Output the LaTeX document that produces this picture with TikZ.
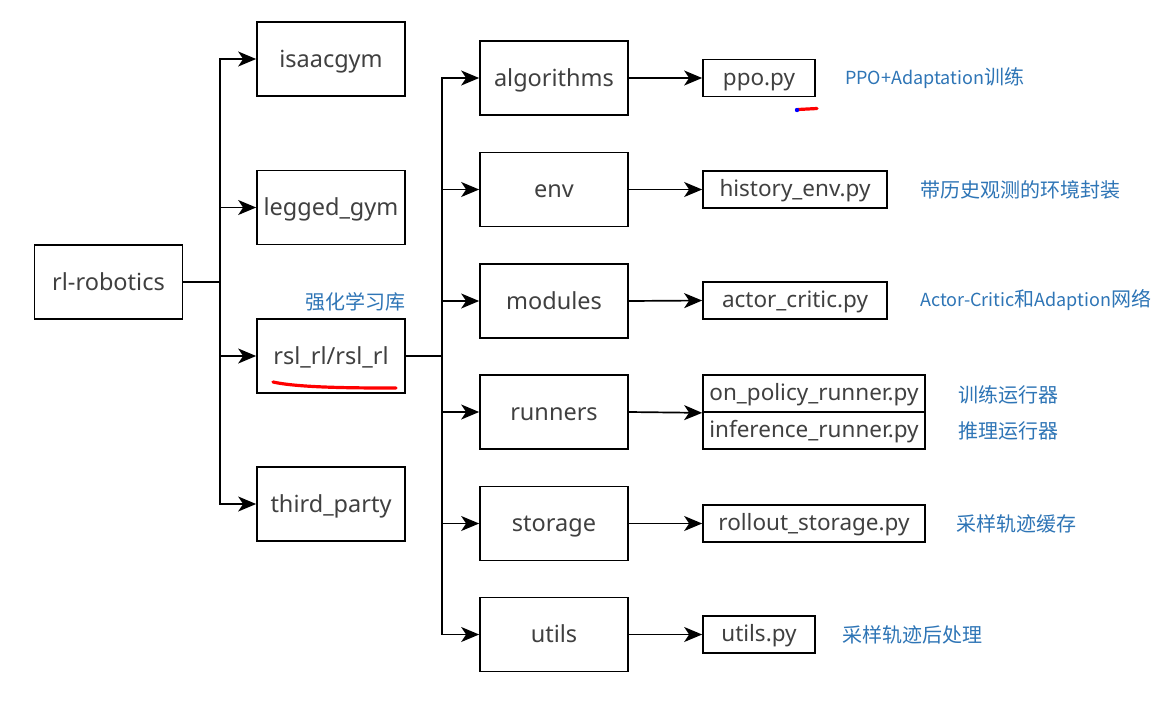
\documentclass[tikz,border=0pt]{standalone}
\usepackage{fontspec}
\setmainfont{Noto Sans}
\newfontfamily\cjk{Noto Sans CJK SC}
\usetikzlibrary{arrows.meta}
\definecolor{txt}{HTML}{404040}
\definecolor{lbl}{HTML}{2E75B6}
\newcommand{\lat}[1]{{\fontsize{18}{20}\selectfont #1}}
\tikzset{
  dirbox/.style={draw=black, line width=1.7pt, minimum width=148pt, minimum height=74pt, inner sep=0pt, text=txt, text height=16pt, text depth=0pt, font=\fontsize{23.5}{26}\selectfont},
  filebox/.style={draw=black, line width=1.7pt, minimum height=37pt, inner sep=0pt, text=txt, text height=14.5pt, text depth=0pt, font=\fontsize{22.5}{25}\selectfont},
  note/.style={text=lbl, font=\cjk\fontsize{20}{22}\selectfont, anchor=west, inner sep=0pt},
  conn/.style={line width=1.7pt, draw=black},
  arr/.style={conn, -{Stealth[length=18pt,width=15pt,inset=5pt]}},
  redmark/.style={draw=red, line width=3.2pt, line cap=round}
}
\begin{document}
\begin{tikzpicture}[x=1pt,y=-1pt]
\useasboundingbox[fill=white] (0,0) rectangle (1171,705);
% level 0
\node[dirbox] (root) at (108.5,282) {rl-robotics};
% level 1
\node[dirbox] (isaac) at (331,59) {isaacgym};
\node[dirbox] (legged) at (331,207.5) {legged\_gym};
\node[dirbox] (rsl) at (331,356) {rsl\_rl/rsl\_rl};
\node[dirbox] (third) at (331,504) {third\_party};
\coordinate (j1) at (220,282);
\draw[conn] (root.east) -- (j1);
\draw[arr] (j1) |- (isaac.west);
\draw[arr] (j1) |- (legged.west);
\draw[arr] (j1) |- (rsl.west);
\draw[arr] (j1) |- (third.west);
\node[note, anchor=center] (rsllbl) at (355.5,302) {强化学习库};
% level 2
\node[dirbox] (alg) at (554,78) {algorithms};
\node[dirbox] (env) at (554,189.5) {env};
\node[dirbox] (mod) at (554,301) {modules};
\node[dirbox] (run) at (554,412) {runners};
\node[dirbox] (sto) at (554,523.5) {storage};
\node[dirbox] (uti) at (554,634.5) {utils};
\coordinate (j2) at (442,356);
\draw[conn] (rsl.east) -- (j2);
\draw[arr] (j2) |- (alg.west);
\draw[arr] (j2) |- (env.west);
\draw[arr] (j2) |- (mod.west);
\draw[arr] (j2) |- (run.west);
\draw[arr] (j2) |- (sto.west);
\draw[arr] (j2) |- (uti.west);
% level 3
\node[filebox, minimum width=112pt] (ppo) at (759,78) {ppo.py};
\node[filebox, minimum width=184pt] (hist) at (795,189.5) {history\_env.py};
\node[filebox, minimum width=184pt] (ac) at (795,300.5) {actor\_critic.py};
\node[filebox, minimum width=222pt] (onp) at (814,393.5) {on\_policy\_runner.py};
\node[filebox, minimum width=222pt] (inf) at (814,430.5) {inference\_runner.py};
\node[filebox, minimum width=222pt] (roll) at (814,523.5) {rollout\_storage.py};
\node[filebox, minimum width=112pt] (ut) at (759,634.5) {utils.py};
\draw[arr] (alg.east) -- (ppo.west);
\draw[arr] (env.east) -- (hist.west);
\draw[arr] (mod.east) -- (ac.west);
\draw[arr] (run.east) -- (onp.south west);
\draw[arr] (sto.east) -- (roll.west);
\draw[arr] (uti.east) -- (ut.west);
% notes
\node[note] (n1) at (845,78) {\lat{PPO+Adaptation}训练};
\node[note] (n2) at (920,189.5) {带历史观测的环境封装};
\node[note] (n3) at (920,300.5) {\lat{Actor-Critic}和\lat{Adaption}网络};
\node[note] (n4) at (958,395) {训练运行器};
\node[note] (n5) at (958,431) {推理运行器};
\node[note] (n6) at (956,523.5) {采样轨迹缓存};
\node[note] (n7) at (842,634.5) {采样轨迹后处理};
% red marks
\draw[redmark] (273,382) .. controls (300,388) and (360,388) .. (396,388);
\draw[redmark] (798,109.5) -- (817,108.5);
\fill[blue] (797,110) circle (2.2pt);
\end{tikzpicture}
\end{document}
